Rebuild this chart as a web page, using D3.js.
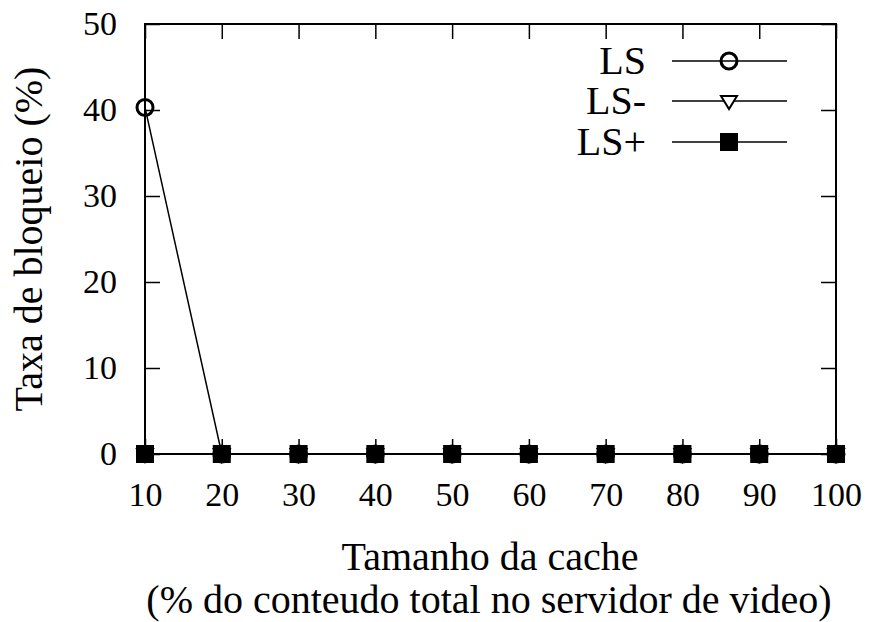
<!DOCTYPE html>
<html>
<head>
<meta charset="utf-8">
<script src="https://cdn.jsdelivr.net/npm/d3@7"></script>
<style>
  body { margin: 0; background: #fff; }
  text { font-family: "Liberation Serif", "DejaVu Serif", serif; fill: #000; }
</style>
</head>
<body>
<svg id="chart" width="869" height="622"></svg>
<script>
// data
const cacheSizes = [10, 20, 30, 40, 50, 60, 70, 80, 90, 100];
const lsValues = [40.3, 0, 0, 0, 0, 0, 0, 0, 0, 0];
const lsMinusValues = [0, 0, 0, 0, 0, 0, 0, 0, 0, 0];
const lsPlusValues = [0, 0, 0, 0, 0, 0, 0, 0, 0, 0];
const yTicks = [0, 10, 20, 30, 40, 50];
const seriesNames = ["LS", "LS-", "LS+"];
const seriesMarkers = ["circle", "triangle", "square"];

const svg = d3.select("#chart");
const margin = { left: 145, right: 33, top: 24, bottom: 168 };
const width = 869, height = 622;

const x = d3.scaleLinear().domain([10, 100]).range([margin.left, width - margin.right]);
const y = d3.scaleLinear().domain([0, 50]).range([height - margin.bottom, margin.top]);

const tickLen = 15;
const tickFont = 34;
const labelFont = 40;

// axes (ticks pointing inward, mirrored)
svg.append("g")
  .attr("transform", `translate(0,${y(0)})`)
  .call(d3.axisBottom(x).tickValues(cacheSizes).tickSize(-tickLen).tickPadding(28).tickSizeOuter(0))
  .call(g => g.selectAll("text").attr("font-size", tickFont).attr("dy", "0.71em"));

svg.append("g")
  .attr("transform", `translate(0,${y(50)})`)
  .call(d3.axisTop(x).tickValues(cacheSizes).tickSize(-tickLen).tickFormat("").tickSizeOuter(0));

svg.append("g")
  .attr("transform", `translate(${x(10)},0)`)
  .call(d3.axisLeft(y).tickValues(yTicks).tickSize(-tickLen).tickPadding(28).tickSizeOuter(0))
  .call(g => g.selectAll("text").attr("font-size", tickFont));

svg.append("g")
  .attr("transform", `translate(${x(100)},0)`)
  .call(d3.axisRight(y).tickValues(yTicks).tickSize(-tickLen).tickFormat("").tickSizeOuter(0));

svg.selectAll(".domain").remove();
svg.selectAll(".tick line").attr("stroke", "#000").attr("stroke-width", 1.5);

// frame
svg.append("rect")
  .attr("x", x(10)).attr("y", y(50))
  .attr("width", x(100) - x(10)).attr("height", y(0) - y(50))
  .attr("fill", "none").attr("stroke", "#000").attr("stroke-width", 2);

// axis titles
svg.append("text")
  .attr("x", 490).attr("y", 570)
  .attr("text-anchor", "middle").attr("font-size", labelFont)
  .text("Tamanho da cache");
svg.append("text")
  .attr("x", 489).attr("y", 613)
  .attr("text-anchor", "middle").attr("font-size", labelFont)
  .text("(% do conteudo total no servidor de video)");
svg.append("text")
  .attr("transform", `translate(42,${(y(0) + y(50)) / 2}) rotate(-90)`)
  .attr("text-anchor", "middle").attr("font-size", labelFont)
  .text("Taxa de bloqueio (%)");

function drawMarker(g, type, cx, cy) {
  if (type === "circle") {
    g.append("circle").attr("cx", cx).attr("cy", cy).attr("r", 8)
      .attr("fill", "none").attr("stroke", "#000").attr("stroke-width", 3);
  } else if (type === "triangle") {
    g.append("path")
      .attr("d", `M${cx - 8},${cy - 5}L${cx + 8},${cy - 5}L${cx},${cy + 8}Z`)
      .attr("fill", "#fff").attr("stroke", "#000").attr("stroke-width", 2);
  } else {
    g.append("rect").attr("x", cx - 9).attr("y", cy - 9).attr("width", 18).attr("height", 18)
      .attr("fill", "#000");
  }
}

const allSeries = [lsValues, lsMinusValues, lsPlusValues];
const line = d3.line().x((d, i) => x(cacheSizes[i])).y(d => y(d));

allSeries.forEach((vals, s) => {
  const g = svg.append("g");
  g.append("path").datum(vals).attr("d", line)
    .attr("fill", "none").attr("stroke", "#000").attr("stroke-width", 1.5);
  vals.forEach((v, i) => drawMarker(g, seriesMarkers[s], x(cacheSizes[i]), y(v)));
});

// legend
const legendY = [61, 101, 142];
seriesNames.forEach((name, s) => {
  const g = svg.append("g");
  g.append("text").attr("x", 646).attr("y", legendY[s]).attr("dy", "0.33em")
    .attr("text-anchor", "end").attr("font-size", labelFont).text(name);
  g.append("line").attr("x1", 672).attr("x2", 787)
    .attr("y1", legendY[s]).attr("y2", legendY[s])
    .attr("stroke", "#000").attr("stroke-width", 1.5);
  drawMarker(g, seriesMarkers[s], 729, legendY[s]);
});
</script>
</body>
</html>
